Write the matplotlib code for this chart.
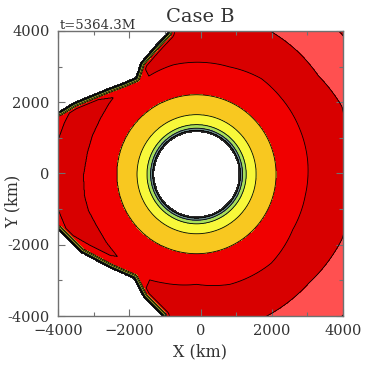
import numpy as np
import matplotlib
matplotlib.use('Agg')
import matplotlib.pyplot as plt
from matplotlib.path import Path
from matplotlib.ticker import MultipleLocator, FixedLocator, FixedFormatter

# --- values (km) ---
center_x, center_y = -110, -20

# radial profile around the hole: radius -> contour value
ring_radius = [1190, 1230, 1290, 1390, 1670, 2230]
ring_value = [7.99, 7.0, 6.0, 5.0, 4.0, 3.0]
hole_radius = 1190

# red / dark red boundary (value 2) by polar angle (deg)
inner_angle = [-114, -107, -90, -73, -50, -30, -11, 7, 23, 43, 56, 73, 102, 116]
inner_radius = [3245, 3190, 3090, 3230, 3260, 3115, 3108, 3140, 3160, 3200, 3240, 3150, 3137, 3062]

# dark red / light red boundary (value 1) by polar angle (deg)
outer_angle = [-116, -90, -63, -44, -24, 0, 12, 25, 39, 50, 63, 90, 116]
outer_radius = [4550, 4500, 4440, 4390, 4470, 4260, 4310, 4500, 4395, 4460, 4520, 4600, 4650]

# edge of the empty (white) region, upper-left and lower-left
upper_edge_x = [-880, -926, -1319, -1684, -1825, -2161, -2611, -3088, -3565, -3930, -4300]
upper_edge_y = [4300, 3958, 3537, 3116, 2695, 2554, 2386, 2189, 1993, 1768, 1620]
lower_edge_x = [-4300, -3986, -3368, -2526, -1881, -1600, -1067, -1000]
lower_edge_y = [-1480, -1600, -2218, -2667, -2947, -3481, -4014, -4300]

# dark red crescent on the left
blob_x = [-2442, -2582, -2807, -3032, -3172, -3284, -3256, -3144, -2919, -2639, -2330,
          -2526, -3144, -3733, -3986, -4211, -4211, -3986, -3818, -3649, -3088]
blob_y = [2133, 1937, 1544, 1067, 589, -56, -618, -1039, -1460, -1937, -2330,
          -2302, -1993, -1656, -1039, -898, 926, 982, 1432, 1768, 2049]

# small dark red patches in the right corners
patch_tr_x = [3700, 4200, 4200]
patch_tr_y = [4200, 4200, 3650]
patch_br_x = [3800, 4200, 4200]
patch_br_y = [-4200, -4200, -3750]

# steep rise at the data edge: distance (km) -> value
edge_dist = [0, 22, 35, 55, 95, 120, 190, 500]
edge_value = [7.99, 7.0, 6.0, 5.0, 4.0, 3.0, 2.0, 0.0]

levels = [0, 1, 2, 3, 4, 5, 6, 7, 8]
colors = ['#ff5050', '#d80000', '#f00000', '#f8c820', '#f8f83a',
          '#a8e05a', '#6f9090', '#2a2a2a']

x_ticks = [-4000, -2000, 0, 2000, 4000]
x_labels = ['\u22124000', '\u22122000', '0', '2000', '4000']
y_ticks = [-4000, -2000, 0, 2000, 4000]
y_labels = ['-4000', '-2000', '0', '2000', '4000']

# --- build the field ---
n = 701
g = np.linspace(-4200, 4200, n)
X, Y = np.meshgrid(g, g)
R = np.hypot(X - center_x, Y - center_y)
TH = np.degrees(np.arctan2(Y - center_y, X - center_x))
pts = np.column_stack([X.ravel(), Y.ravel()])

r2 = np.interp(TH, inner_angle, inner_radius, left=1e6, right=1e6)
rout = np.interp(TH, outer_angle, outer_radius)

V = np.interp(R, ring_radius, ring_value)
mid = (R >= 2230) & (R < r2)
V[mid] = 3 - (R[mid] - 2230) / (r2[mid] - 2230)
band = (R >= r2) & (R < rout)
V[band] = 2 - (R[band] - r2[band]) / (rout[band] - r2[band])
far = (R >= r2) & (R >= rout)
V[far] = np.clip(1 - (R[far] - rout[far]) / 1500, 0.01, None)

def inside(xs, ys):
    return Path(np.column_stack([xs, ys])).contains_points(pts).reshape(X.shape)

m = inside(blob_x, blob_y)
V[m] = np.minimum(V[m], 1.5)
for px, py in [(patch_tr_x, patch_tr_y), (patch_br_x, patch_br_y)]:
    m = inside(px, py)
    V[m] = np.maximum(V[m], 1.5)

def polyline_dist(xs, ys):
    d = np.full(X.shape, np.inf)
    for i in range(len(xs) - 1):
        ax_, ay_, bx, by = xs[i], ys[i], xs[i + 1], ys[i + 1]
        dx, dy = bx - ax_, by - ay_
        t = np.clip(((X - ax_) * dx + (Y - ay_) * dy) / (dx * dx + dy * dy), 0, 1)
        d = np.minimum(d, np.hypot(X - (ax_ + t * dx), Y - (ay_ + t * dy)))
    return d

D = np.minimum(polyline_dist(upper_edge_x, upper_edge_y),
               polyline_dist(lower_edge_x, lower_edge_y))
V = np.maximum(V, np.interp(D, edge_dist, edge_value))

empty = inside(upper_edge_x + [-4300], upper_edge_y + [4300]) | \
        inside(lower_edge_x + [-4300], lower_edge_y + [-4300])
V[empty] = np.nan
V[R < hole_radius] = np.nan

# --- draw ---
fig = plt.figure(figsize=(3.74, 3.74), dpi=100)
ax = fig.add_axes([58 / 374, 58 / 374, 285 / 374, 285 / 374])
ax.contourf(X, Y, V, levels=levels, colors=colors)
ax.contour(X, Y, V, levels=levels[1:-1], colors='k', linewidths=0.6)
ax.set_xlim(-4000, 4000)
ax.set_ylim(-4000, 4000)
ax.set_aspect('auto')

ax.xaxis.set_major_locator(FixedLocator(x_ticks))
ax.xaxis.set_major_formatter(FixedFormatter(x_labels))
ax.yaxis.set_major_locator(FixedLocator(y_ticks))
ax.yaxis.set_major_formatter(FixedFormatter(y_labels))
ax.xaxis.set_minor_locator(MultipleLocator(1000))
ax.yaxis.set_minor_locator(MultipleLocator(1000))
ax.tick_params(which='both', direction='in', top=True, right=True, color='#707070')
ax.tick_params(which='major', length=5, width=0.8, pad=6, labelsize=10.5)
ax.tick_params(which='minor', length=3, width=0.8)
for lab in ax.get_xticklabels() + ax.get_yticklabels():
    lab.set_family('DejaVu Serif')
    lab.set_color('#333333')
for s in ax.spines.values():
    s.set_color('#707070')
    s.set_linewidth(1)

fig.text(200 / 374, 1 - 17 / 374, 'Case B', ha='center', va='center',
         family='DejaVu Serif', size=14, color='#333333')
fig.text(60 / 374, 1 - 29 / 374, 't=5364.3M', ha='left', va='baseline',
         family='DejaVu Serif', size=9.5, color='#333333')
fig.text(200 / 374, 1 - 352 / 374, 'X (km)', ha='center', va='center',
         family='DejaVu Serif', size=11.5, color='#333333')
fig.text(13 / 374, 173 / 374, 'Y (km)', ha='center', va='center', rotation=90,
         family='DejaVu Serif', size=11.5, color='#333333')

fig.savefig('out.png', dpi=100)
